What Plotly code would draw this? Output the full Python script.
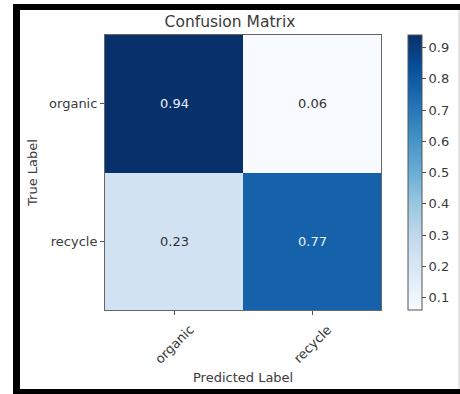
import plotly.graph_objects as go

classes = ["organic", "recycle"]
cm_values = [[0.94, 0.06],
             [0.23, 0.77]]
title_text = "Confusion Matrix"
x_title = "Predicted Label"
y_title = "True Label"
cbar_ticks = [0.1, 0.2, 0.3, 0.4, 0.5, 0.6, 0.7, 0.8, 0.9]

blues = ["#f7fbff", "#deebf7", "#c6dbef", "#9ecae1", "#6baed6",
         "#4292c6", "#2171b5", "#08519c", "#08306b"]
cscale = [[i / (len(blues) - 1), c] for i, c in enumerate(blues)]

W, H = 460, 394
L, R, T, B = 105, 79, 35, 84
pw, ph = W - L - R, H - T - B

def px(x):
    return (x - L) / pw

def py(y):
    return (H - B - y) / ph

FONT = "DejaVu Sans"
TXT = "#3a3a3a"
FS = 13

fig = go.Figure()
fig.add_trace(go.Heatmap(
    z=cm_values, x=classes, y=classes,
    colorscale=cscale,
    zmin=min(min(r) for r in cm_values), zmax=max(max(r) for r in cm_values),
    showscale=True,
    hoverinfo="skip",
    colorbar=dict(
        x=px(408), xanchor="left", xref="paper", xpad=0, ypad=0,
        y=0, yanchor="bottom", len=1, lenmode="fraction",
        thickness=14, thicknessmode="pixels",
        outlinecolor="#555", outlinewidth=1,
        tickvals=cbar_ticks, ticktext=[str(t) for t in cbar_ticks],
        ticks="outside", ticklen=4, tickcolor="#555",
        tickfont=dict(family=FONT, size=FS, color=TXT),
    ),
))

zmax = max(max(r) for r in cm_values)
zmin = min(min(r) for r in cm_values)
thresh = (zmax + zmin) / 2
for i, row in enumerate(cm_values):
    for j, v in enumerate(row):
        fig.add_annotation(
            x=classes[j], y=classes[i], text=f"{v:.2f}", showarrow=False,
            font=dict(family=FONT, size=FS,
                      color="#e8eef5" if v > thresh else "#333333"),
        )

# rotated x tick labels, centred under each tick (matplotlib style)
for c in classes:
    fig.add_annotation(
        x=c, xref="x", y=py(344), yref="paper", text=c, showarrow=False,
        textangle=-45, xanchor="center", yanchor="middle",
        font=dict(family=FONT, size=FS, color=TXT),
    )
fig.add_annotation(
    x=0.5, xref="paper", y=py(377), yref="paper", text=x_title,
    showarrow=False, xanchor="center", yanchor="middle",
    font=dict(family=FONT, size=FS, color=TXT),
)

shapes = []
shapes.append(dict(type="rect", xref="paper", yref="paper",
                   x0=px(13), x1=px(20), y0=py(394), y1=py(4),
                   fillcolor="black", line=dict(width=0), layer="above"))
shapes.append(dict(type="rect", xref="paper", yref="paper",
                   x0=px(13), x1=px(460), y0=py(10), y1=py(4),
                   fillcolor="black", line=dict(width=0), layer="above"))
shapes.append(dict(type="rect", xref="paper", yref="paper",
                   x0=px(13), x1=px(460), y0=py(394), y1=py(389),
                   fillcolor="black", line=dict(width=0), layer="above"))
shapes.append(dict(type="line", xref="paper", yref="paper",
                   x0=px(459), x1=px(459), y0=py(389), y1=py(10),
                   line=dict(color="#cccccc", width=1), layer="above"))

fig.update_layout(
    width=W, height=H,
    margin=dict(l=L, r=R, t=T, b=B, pad=0, autoexpand=False),
    paper_bgcolor="white", plot_bgcolor="white",
    title=dict(text=title_text, x=px(243), xanchor="center",
               y=1 - 22 / H, yanchor="middle",
               font=dict(family=FONT, size=15.5, color=TXT)),
    xaxis=dict(
        ticks="outside", ticklen=4, tickcolor="#555", showticklabels=False,
        showline=True, mirror=True, linecolor="#666", linewidth=1,
        showgrid=False, zeroline=False, automargin=False,
    ),
    yaxis=dict(
        autorange="reversed", ticks="outside", ticklen=4, tickcolor="#555",
        showline=True, mirror=True, linecolor="#666", linewidth=1,
        showgrid=False, zeroline=False, automargin=False,
        tickfont=dict(family=FONT, size=FS, color=TXT),
        title=dict(text=y_title, standoff=8,
                   font=dict(family=FONT, size=FS, color=TXT)),
    ),
    shapes=shapes,
)

fig.write_html("out.html",
               config={"displayModeBar": False, "staticPlot": True},
               post_script="document.body.style.margin='0';"
                           "document.body.style.overflow='hidden';")
